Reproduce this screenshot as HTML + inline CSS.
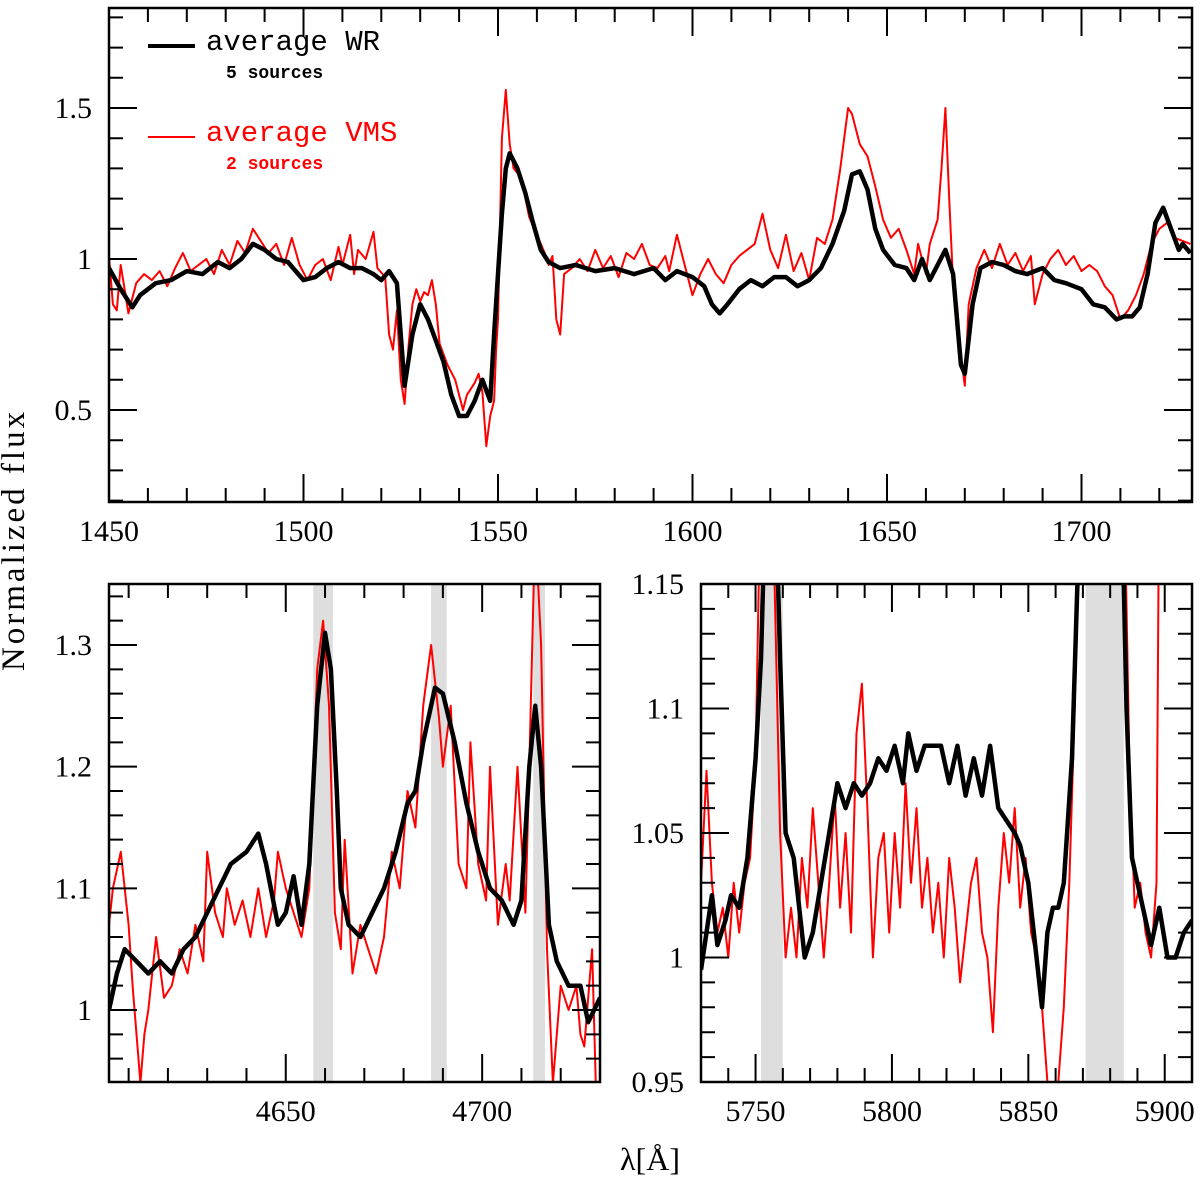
<!DOCTYPE html>
<html><head><meta charset="utf-8"><style>
body{margin:0;background:#fff}
svg{display:block}
text{font-family:"Liberation Serif",serif;fill:#000}
.mono{font-family:"Liberation Mono",monospace}
</style></head><body>
<svg id="chart" width="1200" height="1177" viewBox="0 0 1200 1177" xmlns="http://www.w3.org/2000/svg">
<defs>
<clipPath id="c0"><rect x="109" y="8" width="1083" height="494"/></clipPath>
<clipPath id="c1"><rect x="109" y="584" width="491" height="498"/></clipPath>
<clipPath id="c2"><rect x="701" y="584" width="491" height="498"/></clipPath>
</defs>
<g id="root"></g>
<text x="0" y="0" font-size="33" text-anchor="middle" transform="translate(24,540) rotate(-90)" letter-spacing="3">Normalized flux</text>
<text x="650" y="1170" font-size="32" text-anchor="middle">λ[Å]</text>
<g>
<line x1="148" y1="46" x2="195" y2="46" stroke="#000" stroke-width="4"/>
<text class="mono" x="206" y="50" font-size="29">average WR</text>
<text class="mono" x="226" y="78" font-size="18" font-weight="bold">5 sources</text>
<line x1="148" y1="137" x2="195" y2="137" stroke="#f00" stroke-width="2"/>
<text class="mono" x="206" y="141" font-size="29" style="fill:#f00">average VMS</text>
<text class="mono" x="226" y="169" font-size="18" font-weight="bold" style="fill:#f00">2 sources</text>
</g>
</svg>
<script>
// ---- Top panel (UV) data ----
const uvWrLam=[1450,1453,1456,1458,1462,1466,1470,1474,1478,1481,1484,1487,1490,1493,1496,1498,1500,1503,1506,1509,1512,1515,1518,1520,1522,1524,1526,1528,1530,1532,1534,1536,1538,1540,1542,1544,1546,1548,1549,1550,1551,1552,1553,1555,1557,1559,1561,1563,1566,1570,1575,1580,1585,1590,1593,1596,1600,1603,1605,1607,1609,1612,1615,1618,1621,1624,1627,1630,1633,1636,1639,1641,1643,1645,1647,1649,1652,1655,1657,1659,1661,1663,1665,1667,1669,1670,1672,1674,1677,1680,1683,1686,1690,1693,1696,1700,1703,1706,1709,1711,1713,1715,1717,1719,1721,1723,1725,1726,1728];
const uvWrFlux=[0.97,0.90,0.84,0.88,0.92,0.93,0.96,0.95,0.99,0.97,1.00,1.05,1.03,1.00,0.99,0.96,0.93,0.94,0.97,0.99,0.97,0.97,0.95,0.93,0.96,0.92,0.58,0.75,0.85,0.80,0.73,0.66,0.55,0.48,0.48,0.53,0.60,0.53,0.75,0.95,1.15,1.30,1.35,1.30,1.22,1.12,1.03,0.99,0.97,0.98,0.96,0.97,0.95,0.97,0.93,0.96,0.94,0.91,0.85,0.82,0.85,0.90,0.93,0.91,0.94,0.94,0.91,0.93,0.97,1.05,1.16,1.28,1.29,1.23,1.10,1.03,0.98,0.97,0.93,1.00,0.93,0.98,1.03,0.95,0.65,0.62,0.85,0.97,0.99,0.98,0.96,0.95,0.97,0.93,0.92,0.90,0.85,0.84,0.80,0.81,0.81,0.84,0.95,1.12,1.17,1.10,1.03,1.05,1.02];
const uvVmsLam=[1450,1451,1452,1453,1454,1455,1457,1459,1461,1463,1465,1467,1469,1471,1473,1475,1477,1479,1481,1483,1485,1487,1489,1491,1493,1495,1497,1499,1501,1503,1505,1507,1509,1510,1512,1513,1514,1516,1518,1519,1521,1522,1523,1524,1525,1526,1527,1528,1529,1530,1531,1532,1533,1534,1535,1537,1539,1541,1542,1543,1544,1545,1546,1547,1548,1549,1549.5,1550,1551,1552,1553,1554,1556,1558,1560,1562,1563,1564,1565,1566,1567,1569,1571,1573,1575,1577,1579,1581,1583,1585,1587,1589,1591,1593,1594,1596,1598,1600,1602,1604,1606,1608,1610,1612,1614,1616,1618,1620,1622,1624,1626,1628,1630,1632,1634,1636,1638,1640,1641,1643,1645,1647,1649,1651,1653,1655,1657,1658,1660,1661,1663,1664,1665,1666,1667,1668,1669,1670,1671,1673,1675,1677,1679,1681,1683,1685,1687,1688,1690,1692,1694,1696,1698,1700,1702,1704,1706,1708,1710,1712,1714,1716,1718,1720,1722,1724,1726,1728];
const uvVmsFlux=[1.01,0.85,0.83,0.98,0.90,0.82,0.92,0.95,0.93,0.96,0.91,0.97,1.02,0.96,0.98,1.00,0.95,1.03,0.98,1.06,1.02,1.10,1.06,1.02,1.05,0.98,1.07,0.98,0.93,0.98,1.00,0.93,1.04,0.98,1.08,0.95,1.03,1.00,1.09,0.97,0.94,0.75,0.70,0.83,0.60,0.52,0.71,0.85,0.90,0.86,0.89,0.88,0.93,0.85,0.72,0.65,0.60,0.50,0.55,0.57,0.59,0.62,0.56,0.38,0.48,0.53,0.70,0.80,1.40,1.56,1.38,1.30,1.27,1.14,1.08,1.02,0.98,1.01,0.80,0.75,0.95,0.97,1.00,0.96,1.03,0.97,1.01,0.94,1.02,1.00,1.05,0.98,0.97,1.01,0.96,1.08,0.98,0.88,0.95,1.00,0.95,0.92,0.98,1.01,1.03,1.05,1.15,1.03,0.97,1.08,0.96,1.02,0.93,1.07,1.05,1.13,1.30,1.50,1.48,1.38,1.34,1.24,1.13,1.07,1.10,1.03,0.95,1.05,0.95,1.05,1.13,1.30,1.50,1.20,0.92,0.85,0.68,0.58,0.85,0.97,1.03,0.97,1.05,0.98,1.02,0.96,1.01,0.85,0.95,1.00,1.03,0.98,1.01,0.96,0.98,0.96,0.91,0.88,0.80,0.83,0.88,0.95,1.05,1.10,1.12,1.07,1.06,1.05];
const uvXTicks=[1450,1500,1550,1600,1650,1700];
const uvYTicks=[0.5,1,1.5];
const uvYTickLabels=["0.5","1","1.5"];

// ---- Bottom-left panel (4605-4730) ----
const blWrLam=[4605,4607,4609,4612,4615,4618,4621,4624,4627,4630,4633,4636,4640,4643,4645,4648,4650,4652,4654,4656,4658,4660,4661.5,4663,4664,4666,4669,4672,4675,4678,4681,4683,4685,4688,4690,4693,4696,4699,4702,4705,4708,4710,4712,4713.5,4715,4717,4719,4722,4725,4727,4730];
const blWrFlux=[1.00,1.03,1.05,1.04,1.03,1.04,1.03,1.05,1.06,1.08,1.10,1.12,1.13,1.145,1.12,1.07,1.08,1.11,1.07,1.12,1.25,1.31,1.28,1.18,1.10,1.07,1.06,1.08,1.10,1.13,1.17,1.18,1.22,1.265,1.26,1.22,1.17,1.13,1.10,1.09,1.07,1.09,1.20,1.25,1.20,1.07,1.04,1.02,1.02,0.99,1.01];
const blVmsLam=[4605,4606,4608,4610,4611,4612,4613,4614,4615,4617,4619,4621,4623,4625,4627,4629,4630,4632,4634,4635,4637,4639,4641,4643,4645,4647,4648,4650,4652,4654,4656,4658,4659.5,4661,4662.5,4664,4665,4667,4669,4671,4673,4675,4677,4679,4681,4683,4685,4687,4689,4690,4692,4694,4696,4697,4699,4701,4702,4704,4706,4707,4709,4711,4712,4713.5,4715,4716.5,4718,4720,4722,4724,4725,4726,4728,4729,4730];
const blVmsFlux=[1.07,1.10,1.13,1.07,1.02,0.98,0.94,0.98,1.00,1.06,1.01,1.02,1.05,1.03,1.07,1.04,1.13,1.08,1.06,1.10,1.07,1.09,1.06,1.10,1.06,1.09,1.13,1.10,1.08,1.06,1.10,1.28,1.32,1.25,1.08,1.05,1.14,1.03,1.07,1.05,1.03,1.06,1.13,1.10,1.18,1.15,1.25,1.30,1.24,1.20,1.25,1.12,1.10,1.22,1.12,1.09,1.20,1.07,1.12,1.09,1.20,1.08,1.20,1.40,1.30,1.05,0.94,1.02,1.00,1.02,0.98,0.97,1.05,0.93,0.94];
const blXTicks=[4650,4700];
const blYTicks=[1,1.1,1.2,1.3];
const blYTickLabels=["1","1.1","1.2","1.3"];
const blBandStart=[4657,4687,4713];
const blBandEnd=[4662,4691,4716];

// ---- Bottom-right panel (5730-5910) ----
const brWrLam=[5730,5732,5734,5736,5739,5741,5744,5747,5750,5752,5754,5757,5759,5761,5764,5766,5768,5771,5774,5777,5780,5783,5786,5789,5792,5795,5798,5801,5804,5806,5809,5812,5815,5818,5821,5824,5827,5830,5833,5836,5839,5842,5845,5847,5850,5852,5855,5857,5859,5861,5863,5866,5868,5870,5884,5886,5888,5890,5892,5895,5898,5901,5904,5907,5910];
const brWrFlux=[0.995,1.01,1.025,1.005,1.015,1.025,1.02,1.04,1.08,1.12,1.2,1.2,1.12,1.05,1.04,1.02,1.00,1.01,1.03,1.05,1.07,1.06,1.07,1.065,1.07,1.08,1.075,1.085,1.07,1.09,1.075,1.085,1.085,1.085,1.07,1.085,1.065,1.08,1.065,1.085,1.06,1.055,1.05,1.045,1.03,1.01,0.98,1.01,1.02,1.02,1.03,1.08,1.15,1.2,1.2,1.10,1.04,1.03,1.02,1.005,1.02,1.00,1.00,1.01,1.015];
const brVmsLam=[5730,5732,5734,5736,5738,5740,5742,5744,5746,5748,5750,5752,5755,5757,5759,5761,5763,5765,5767,5769,5771,5773,5775,5777,5779,5781,5783,5785,5787,5789,5791,5793,5795,5797,5799,5801,5803,5805,5807,5809,5811,5813,5815,5817,5819,5821,5823,5825,5827,5829,5831,5833,5835,5837,5839,5841,5843,5845,5847,5849,5851,5853,5855,5857,5859,5861,5863,5865,5867,5869,5885,5887,5889,5891,5893,5895,5897,5898,5899];
const brVmsFlux=[1.03,1.075,1.03,1.01,1.02,1.00,1.03,1.01,1.03,1.04,1.08,1.20,1.20,1.15,1.05,1.00,1.02,1.00,1.04,1.02,1.06,1.03,1.00,1.03,1.065,1.02,1.05,1.01,1.09,1.11,1.06,1.00,1.04,1.05,1.01,1.05,1.02,1.07,1.03,1.06,1.02,1.04,1.01,1.03,1.00,1.04,1.02,0.99,1.01,1.03,1.04,1.01,1.00,0.97,1.02,1.05,1.03,1.06,1.02,1.04,1.01,1.00,0.98,0.95,0.94,0.95,0.98,1.03,1.10,1.2,1.2,1.08,1.02,1.03,1.01,1.00,1.03,1.2,1.2];
const brXTicks=[5750,5800,5850,5900];
const brYTicks=[0.95,1,1.05,1.1,1.15];
const brYTickLabels=["0.95","1","1.05","1.1","1.15"];
const brBandStart=[5752,5871];
const brBandEnd=[5760,5885];

const NS="http://www.w3.org/2000/svg";
const root=document.getElementById('root');
function mk(tag,attrs,parent){const e=document.createElementNS(NS,tag);for(const k in attrs)e.setAttribute(k,attrs[k]);(parent||root).appendChild(e);return e;}

function panel(p){
  const g=mk('g',{});
  
  
  const sx=v=>p.x0+(v-p.xmin)/(p.xmax-p.xmin)*(p.x1-p.x0);
  const sy=v=>p.y1-(v-p.ymin)/(p.ymax-p.ymin)*(p.y1-p.y0);
  if(p.bs){for(let i=0;i<p.bs.length;i++){
    const r=mk('rect',{x:sx(p.bs[i]),y:p.y0,width:sx(p.be[i])-sx(p.bs[i]),height:p.y1-p.y0,fill:'#dedede'},g);
    
    
  }}
  const lines=[[p.vl,p.vf,'#f00',2,'vms-line'],[p.wl,p.wf,'#000',4.5,'wr-line']];
  for(const [L,F,c,w,n] of lines){
    let d='';for(let i=0;i<L.length;i++)d+=(i?'L':'M')+sx(L[i]).toFixed(1)+' '+sy(F[i]).toFixed(1);
    const pa=mk('path',{d:d,fill:'none',stroke:c,'stroke-width':w,'stroke-linejoin':'round','clip-path':'url(#'+p.clip+')'},g);
    
    
  }
  let td='';
  for(let v=Math.ceil(p.xmin/p.xminor)*p.xminor;v<=p.xmax+1e-9;v+=p.xminor){
    const major=Math.abs(v/p.xmajor-Math.round(v/p.xmajor))<1e-6;const l=major?28:14;const X=sx(v);
    td+=`M${X} ${p.y1}v${-l}M${X} ${p.y0}v${l}`;
  }
  for(let v=Math.ceil(p.ymin/p.yminor-1e-6)*p.yminor;v<=p.ymax+1e-9;v+=p.yminor){
    const major=Math.abs(v/p.ymajor-Math.round(v/p.ymajor))<1e-6;const l=major?28:14;const Y=sy(v);
    td+=`M${p.x0} ${Y}h${l}M${p.x1} ${Y}h${-l}`;
  }
  const t=mk('path',{d:td,stroke:'#000','stroke-width':2,fill:'none'},g);
  
  
  const fr=mk('rect',{x:p.x0,y:p.y0,width:p.x1-p.x0,height:p.y1-p.y0,fill:'none',stroke:'#000','stroke-width':2.5},g);
  
  
  for(const v of p.xt){
    const tx=mk('text',{x:sx(v),y:p.y1+39,'font-size':30,'text-anchor':'middle'},g);
    
    
    tx.textContent=String(v);
  }
  for(let i=0;i<p.yt.length;i++){
    const ty=mk('text',{x:p.x0-17,y:sy(p.yt[i])+10,'font-size':30,'text-anchor':'end'},g);
    
    
    ty.textContent=p.ytl[i];
  }
}
panel({name:'uv-panel',clip:'c0',x0:109,x1:1192,y0:8,y1:502,xmin:1450,xmax:1450+1083/3.89,ymin:1-243/302,ymax:1+251/302,
  xmajor:50,xminor:10,ymajor:0.5,yminor:0.1,xt:uvXTicks,yt:uvYTicks,ytl:uvYTickLabels,
  wl:uvWrLam,wf:uvWrFlux,vl:uvVmsLam,vf:uvVmsFlux});
panel({name:'optical-panel-left',clip:'c1',x0:109,x1:600,y0:584,y1:1082,xmin:4605,xmax:4730,ymin:1-72/1217,ymax:1.3+61/1217,
  xmajor:50,xminor:10,ymajor:0.1,yminor:0.02,xt:blXTicks,yt:blYTicks,ytl:blYTickLabels,
  wl:blWrLam,wf:blWrFlux,vl:blVmsLam,vf:blVmsFlux,bs:blBandStart,be:blBandEnd});
panel({name:'optical-panel-right',clip:'c2',x0:701,x1:1192,y0:584,y1:1082,xmin:5730,xmax:5910,ymin:0.95,ymax:1.15,
  xmajor:50,xminor:10,ymajor:0.05,yminor:0.01,xt:brXTicks,yt:brYTicks,ytl:brYTickLabels,
  wl:brWrLam,wf:brWrFlux,vl:brVmsLam,vf:brVmsFlux,bs:brBandStart,be:brBandEnd});
</script>
</body></html>
